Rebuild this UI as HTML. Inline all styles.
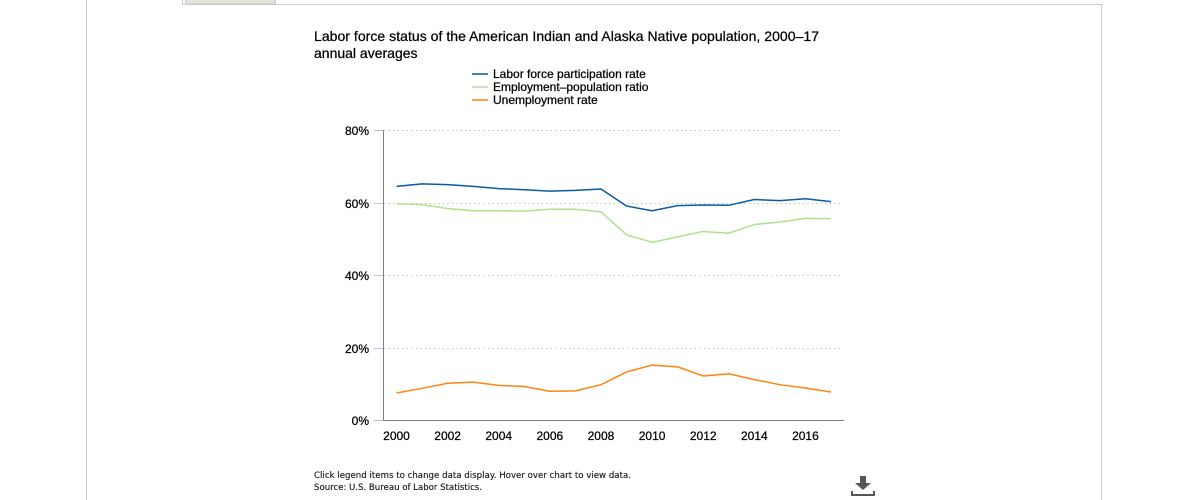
<!DOCTYPE html>
<html>
<head>
<meta charset="utf-8">
<title>Labor force status chart</title>
<style>
html,body{margin:0;padding:0;background:#fff;width:1192px;height:500px;overflow:hidden}
svg{display:block}
text{font-family:"Liberation Sans",sans-serif;fill:#000;stroke:#000;stroke-width:0.25px}
text.foot{font-family:"DejaVu Sans",sans-serif;font-size:8.6px;fill:#111;stroke:#111;stroke-width:0.12px}
</style>
</head>
<body>
<svg id="chart" width="1192" height="500" viewBox="0 0 1192 500" xmlns="http://www.w3.org/2000/svg">
  <g fill="none" stroke="#ccc" stroke-width="1">
    <line x1="86.5" y1="0" x2="86.5" y2="500"/>
    <line x1="182.5" y1="0" x2="182.5" y2="4.5"/>
    <line x1="182" y1="4.5" x2="1102" y2="4.5"/>
    <line x1="1101.5" y1="4" x2="1101.5" y2="500"/>
  </g>
  <rect x="185.5" y="-1" width="90" height="5" fill="#e1e5db" stroke="#ccc" stroke-width="1"/>
  <text x="314" y="41" font-size="14" textLength="505">Labor force status of the American Indian and Alaska Native population, 2000–17</text>
  <text x="314" y="58" font-size="14">annual averages</text>
  <g id="grid"></g>
  <g id="series" transform="translate(0,0.5)"></g>
  <g id="axes"></g>
  <g id="legend"></g>
  <text class="foot" x="314" y="478" textLength="317">Click legend items to change data display. Hover over chart to view data.</text>
  <text class="foot" x="314" y="490" textLength="168">Source: U.S. Bureau of Labor Statistics.</text>
  <g fill="#555">
    <rect x="860" y="476" width="6" height="7"/>
    <polygon points="855,483 871,483 863,490"/>
    <rect x="851" y="494" width="24" height="2"/>
    <rect x="851" y="491" width="2" height="4"/>
    <rect x="873" y="491" width="2" height="4"/>
  </g>
</svg>
<script>
const years = [2000,2001,2002,2003,2004,2005,2006,2007,2008,2009,2010,2011,2012,2013,2014,2015,2016,2017];
const yTicks = [0,20,40,60,80];
const yTickLabels = ['0%','20%','40%','60%','80%'];
const xTickLabels = [2000,2002,2004,2006,2008,2010,2012,2014,2016];
const participationRate = [64.6,65.3,65.1,64.6,64.0,63.7,63.3,63.5,63.9,59.2,57.9,59.3,59.5,59.4,61.0,60.7,61.2,60.4];
const employmentRatio = [59.8,59.6,58.5,57.9,57.9,57.8,58.3,58.3,57.6,51.3,49.2,50.7,52.2,51.7,54.1,54.8,55.8,55.7];
const unemploymentRate = [7.7,9.0,10.4,10.7,9.8,9.5,8.2,8.3,10.0,13.5,15.4,14.9,12.4,13.0,11.4,10.0,9.1,8.0];
const seriesNames = ['Labor force participation rate','Employment–population ratio','Unemployment rate'];

const NS = 'http://www.w3.org/2000/svg';
const seriesColors = ['#0a5aa5','#b2e08f','#ff8410'];
const seriesValues = [participationRate, employmentRatio, unemploymentRate];
const seriesKeys = ['participation-rate','employment-ratio','unemployment-rate'];
const plot = {left:383.5, right:843, top:130, bottom:420.5};
const firstX = 396.5, lastX = 831;
function xScale(year){
  return firstX + (year - years[0]) * (lastX - firstX) / (years[years.length-1] - years[0]);
}
function yScale(v){
  return plot.bottom - v * (plot.bottom - plot.top) / yTicks[yTicks.length-1];
}
function make(tag, attrs, parent){
  const el = document.createElementNS(NS, tag);
  for (const k in attrs) el.setAttribute(k, attrs[k]);
  parent.appendChild(el);
  return el;
}
const gridG = document.getElementById('grid');
const axesG = document.getElementById('axes');
const seriesG = document.getElementById('series');
const legendG = document.getElementById('legend');

yTicks.forEach(function(t, i){
  const y = Math.round(yScale(t)) + 0.5 - (t === 0 ? 1 : 0);
  if (t !== 0) {
    const g = make('line', {x1:plot.left+1, x2:842, y1:y, y2:y, stroke:'#aaa', 'stroke-width':1, 'stroke-dasharray':'1 3.5'}, gridG);
    
    
  }
  const tick = make('line', {x1:374, x2:plot.left, y1:y, y2:y, stroke:'#b5c6dc', 'stroke-width':1}, axesG);
  
  
  const lab = make('text', {x:369, y:y+4.5, 'text-anchor':'end', 'font-size':12}, axesG);
  lab.textContent = yTickLabels[i];
  
  
});

const yAxis = make('line', {x1:plot.left, x2:plot.left, y1:plot.top, y2:plot.bottom+0.5, stroke:'#808080', 'stroke-width':1}, axesG);


const xAxis = make('line', {x1:plot.left, x2:plot.right+1, y1:420.5, y2:420.5, stroke:'#808080', 'stroke-width':1}, axesG);



xTickLabels.forEach(function(yr){
  const lab = make('text', {x:xScale(yr), y:440, 'text-anchor':'middle', 'font-size':12}, axesG);
  lab.textContent = yr;
  
  
});

seriesValues.forEach(function(vals, i){
  const pts = vals.map(function(v, j){ return xScale(years[j]).toFixed(2) + ',' + yScale(v).toFixed(2); }).join(' ');
  const line = make('polyline', {points:pts, fill:'none', stroke:seriesColors[i], 'stroke-width':1.5, 'stroke-linejoin':'round'}, seriesG);
  
  
});

seriesNames.forEach(function(name, i){
  const y = 74 + i * 13;
  const swatch = make('line', {x1:472, x2:488, y1:y, y2:y, stroke:seriesColors[i], 'stroke-width':1.5}, legendG);
  
  
  const lab = make('text', {x:493, y:y+4, 'font-size':12}, legendG);
  lab.textContent = name;
  
  
});
</script>
</body>
</html>
